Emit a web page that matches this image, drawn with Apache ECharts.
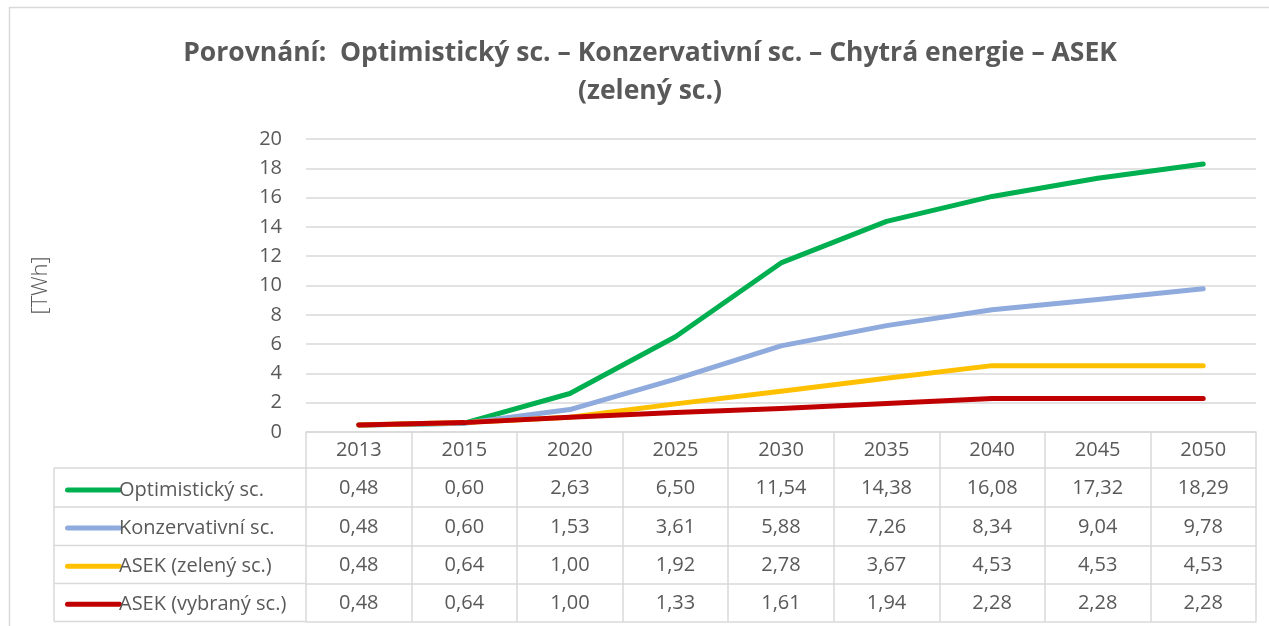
<!DOCTYPE html>
<html>
<head>
<meta charset="utf-8">
<script src="https://cdn.jsdelivr.net/npm/echarts@6/dist/echarts.min.js"></script>
<style>
  html, body { margin: 0; padding: 0; background: #fff; }
  #main { width: 1269px; height: 626px; }
</style>
</head>
<body>
<div id="main"></div>
<script>
// data
var years = ['2013', '2015', '2020', '2025', '2030', '2035', '2040', '2045', '2050'];
var names = ['Optimistický sc.', 'Konzervativní sc.', 'ASEK (zelený sc.)', 'ASEK (vybraný sc.)'];
var optimisticky = [0.48, 0.60, 2.63, 6.50, 11.54, 14.38, 16.08, 17.32, 18.29];
var konzervativni = [0.48, 0.60, 1.53, 3.61, 5.88, 7.26, 8.34, 9.04, 9.78];
var asekZeleny = [0.48, 0.64, 1.00, 1.92, 2.78, 3.67, 4.53, 4.53, 4.53];
var asekVybrany = [0.48, 0.64, 1.00, 1.33, 1.61, 1.94, 2.28, 2.28, 2.28];
var colors = ['#00b050', '#8faadc', '#ffc000', '#c00000'];

var allValues = [optimisticky, konzervativni, asekZeleny, asekVybrany];

var textColor = '#595959';
var gridColor = '#d9d9d9';
var font = 'Open Sans';

// table rows (offsets below the x axis)
var rowLines = [36, 75, 113.5, 151.5, 189.5];
var gridLeft = 306, gridBottomY = 432;

function fmt(v) {
  return v.toFixed(2).replace('.', ',');
}

var chart = echarts.init(document.getElementById('main'));

var xAxes = [{
  type: 'category',
  data: years,
  position: 'bottom',
  boundaryGap: true,
  axisLine: { show: true, lineStyle: { color: gridColor, width: 1.5 } },
  axisTick: { show: true, interval: 0, length: rowLines[0], lineStyle: { color: gridColor, width: 1.5 } },
  axisLabel: { color: textColor, fontSize: 20, fontFamily: font, margin: 8, interval: 0 },
  splitLine: { show: false }
}];
for (var i = 0; i < allValues.length; i++) {
  xAxes.push({
    type: 'category',
    data: allValues[i].map(fmt),
    position: 'bottom',
    offset: rowLines[i],
    boundaryGap: true,
    axisLine: { show: true, lineStyle: { color: gridColor, width: 1.5 } },
    axisTick: { show: true, interval: 0, length: rowLines[i + 1] - rowLines[i], lineStyle: { color: gridColor, width: 1.5 } },
    axisLabel: { color: textColor, fontSize: 20, fontFamily: font, margin: 10, interval: 0 },
    splitLine: { show: false }
  });
}
xAxes.push({
  type: 'category',
  data: years,
  position: 'bottom',
  offset: rowLines[4],
  axisLine: { show: true, lineStyle: { color: gridColor, width: 1.5 } },
  axisTick: { show: false },
  axisLabel: { show: false }
});

var series = names.map(function (n, i) {
  return {
    name: n,
    type: 'line',
    data: allValues[i],
    symbol: 'none',
    lineStyle: { color: colors[i], width: 5, cap: 'round', join: 'round' },
    itemStyle: { color: colors[i] },
    z: 2 + i
  };
});

// borders of the legend column of the table
var graphics = [{
  type: 'rect',
  shape: { x: 9.5, y: 7.5, width: 1400, height: 800 },
  style: { fill: null, stroke: gridColor, lineWidth: 1.5 },
  silent: true
}, {
  type: 'line',
  shape: { x1: 54, y1: gridBottomY + rowLines[0], x2: 54, y2: gridBottomY + rowLines[4] },
  style: { stroke: gridColor, lineWidth: 1.5 },
  silent: true
}];
rowLines.forEach(function (r) {
  graphics.push({
    type: 'line',
    shape: { x1: 54, y1: gridBottomY + r, x2: gridLeft, y2: gridBottomY + r },
    style: { stroke: gridColor, lineWidth: 1.5 },
    silent: true
  });
});

var option = {
  animation: false,
  textStyle: { fontFamily: font },
  title: {
    text: 'Porovnání:  Optimistický sc. – Konzervativní sc. – Chytrá energie – ASEK\n(zelený sc.)',
    left: 645,
    textAlign: 'center',
    top: 29,
    textStyle: { color: textColor, fontSize: 26.5, fontWeight: 'bold', fontFamily: font, lineHeight: 38 }
  },
  legend: {
    orient: 'vertical',
    left: 60,
    top: 473,
    itemWidth: 57,
    itemHeight: 24,
    itemGap: 14.1,
    icon: 'path://M2.5,0 L54.5,0 A2.5,2.5 0 0 1 54.5,5 L2.5,5 A2.5,2.5 0 0 1 2.5,0 Z',
    data: names,
    textStyle: { color: textColor, fontSize: 20, fontFamily: font, lineHeight: 24, padding: [0, 0, 0, -8] }
  },
  grid: { left: gridLeft, right: 13, top: 139, bottom: 626 - gridBottomY, containLabel: false },
  xAxis: xAxes,
  yAxis: {
    type: 'value',
    min: 0,
    max: 20,
    interval: 2,
    name: '[TWh]',
    nameLocation: 'middle',
    nameRotate: 90,
    nameGap: 254,
    nameTextStyle: { color: textColor, fontSize: 22, fontWeight: 300, fontFamily: font },
    axisLine: { show: false },
    axisTick: { show: false },
    axisLabel: { color: textColor, fontSize: 20, fontFamily: font, margin: 24 },
    splitLine: { lineStyle: { color: gridColor, width: 1.5 } }
  },
  graphic: graphics,
  series: series
};
chart.setOption(option);
</script>
</body>
</html>
